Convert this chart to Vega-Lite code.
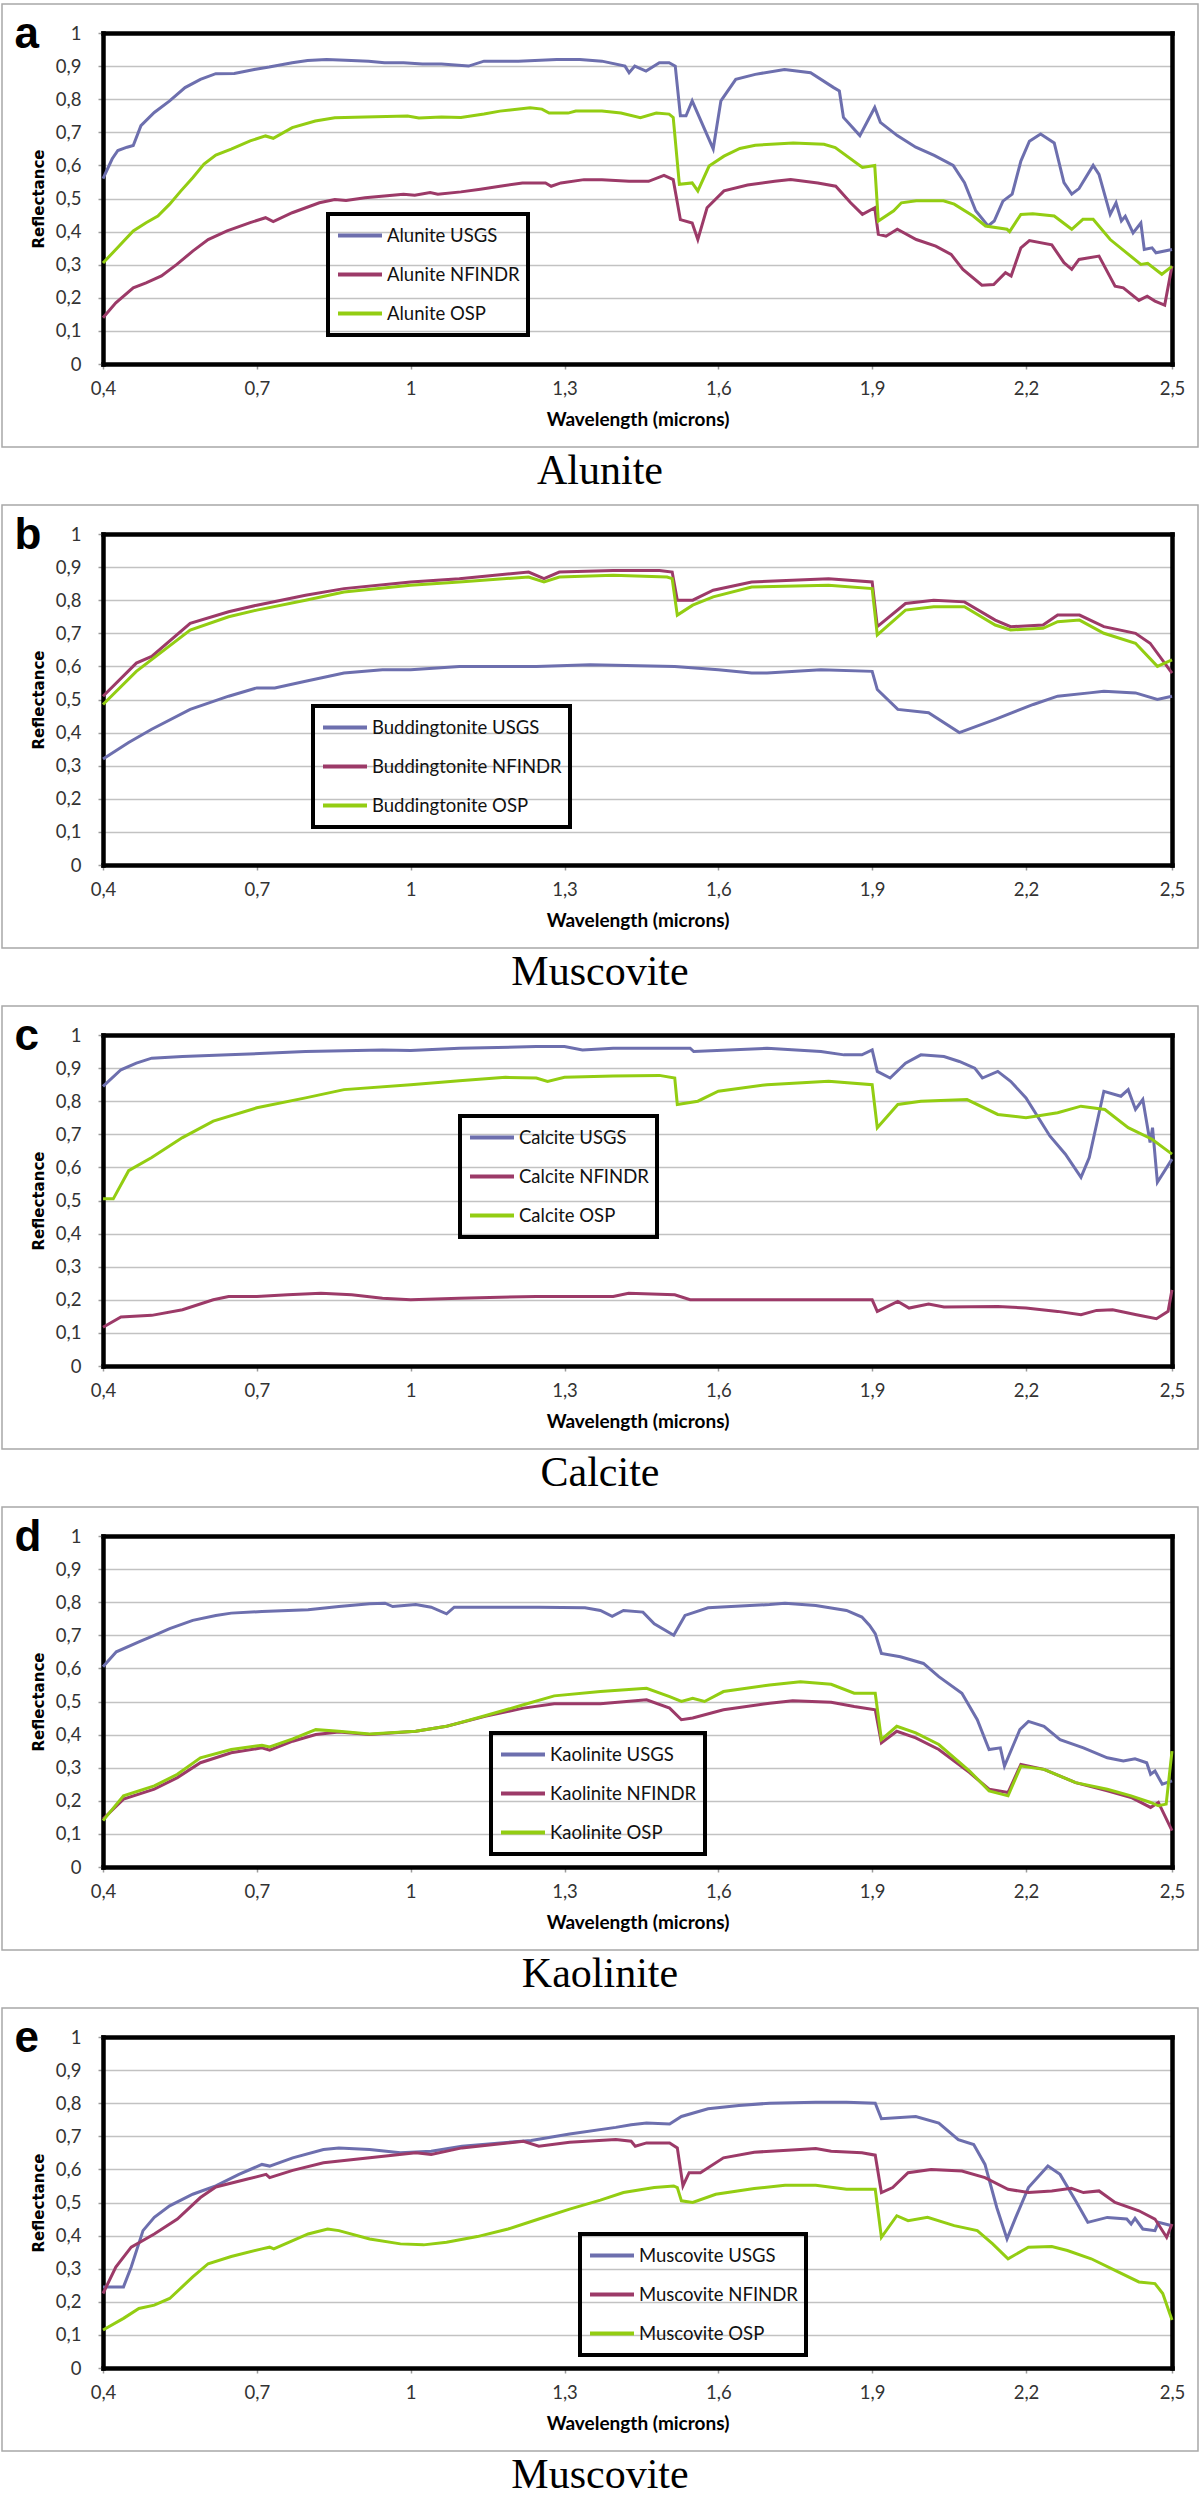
{
"$schema": "https://vega.github.io/schema/vega-lite/v6.json",
"background": "white",
"padding": {"left": 1, "top": 3, "right": 0, "bottom": 0},
"datasets": {
"a": [
{"w":0.4,"r":0.56,"s":"Alunite USGS"},{"w":0.418,"r":0.62,"s":"Alunite USGS"},{"w":0.429,"r":0.645,"s":"Alunite USGS"},{"w":0.447,"r":0.655,"s":"Alunite USGS"},{"w":0.459,"r":0.66,"s":"Alunite USGS"},{"w":0.474,"r":0.72,"s":"Alunite USGS"},{"w":0.5,"r":0.76,"s":"Alunite USGS"},{"w":0.53,"r":0.795,"s":"Alunite USGS"},{"w":0.56,"r":0.835,"s":"Alunite USGS"},{"w":0.59,"r":0.86,"s":"Alunite USGS"},{"w":0.62,"r":0.877,"s":"Alunite USGS"},{"w":0.656,"r":0.878,"s":"Alunite USGS"},{"w":0.695,"r":0.89,"s":"Alunite USGS"},{"w":0.724,"r":0.897,"s":"Alunite USGS"},{"w":0.769,"r":0.91,"s":"Alunite USGS"},{"w":0.799,"r":0.917,"s":"Alunite USGS"},{"w":0.836,"r":0.92,"s":"Alunite USGS"},{"w":0.873,"r":0.918,"s":"Alunite USGS"},{"w":0.918,"r":0.915,"s":"Alunite USGS"},{"w":0.949,"r":0.91,"s":"Alunite USGS"},{"w":0.986,"r":0.91,"s":"Alunite USGS"},{"w":1.023,"r":0.906,"s":"Alunite USGS"},{"w":1.06,"r":0.906,"s":"Alunite USGS"},{"w":1.113,"r":0.9,"s":"Alunite USGS"},{"w":1.143,"r":0.915,"s":"Alunite USGS"},{"w":1.21,"r":0.915,"s":"Alunite USGS"},{"w":1.285,"r":0.92,"s":"Alunite USGS"},{"w":1.33,"r":0.92,"s":"Alunite USGS"},{"w":1.373,"r":0.915,"s":"Alunite USGS"},{"w":1.418,"r":0.9,"s":"Alunite USGS"},{"w":1.426,"r":0.88,"s":"Alunite USGS"},{"w":1.437,"r":0.9,"s":"Alunite USGS"},{"w":1.459,"r":0.885,"s":"Alunite USGS"},{"w":1.485,"r":0.91,"s":"Alunite USGS"},{"w":1.504,"r":0.91,"s":"Alunite USGS"},{"w":1.516,"r":0.9,"s":"Alunite USGS"},{"w":1.526,"r":0.75,"s":"Alunite USGS"},{"w":1.537,"r":0.75,"s":"Alunite USGS"},{"w":1.549,"r":0.795,"s":"Alunite USGS"},{"w":1.59,"r":0.65,"s":"Alunite USGS"},{"w":1.605,"r":0.795,"s":"Alunite USGS"},{"w":1.634,"r":0.86,"s":"Alunite USGS"},{"w":1.672,"r":0.875,"s":"Alunite USGS"},{"w":1.729,"r":0.89,"s":"Alunite USGS"},{"w":1.78,"r":0.88,"s":"Alunite USGS"},{"w":1.825,"r":0.835,"s":"Alunite USGS"},{"w":1.836,"r":0.825,"s":"Alunite USGS"},{"w":1.844,"r":0.745,"s":"Alunite USGS"},{"w":1.876,"r":0.69,"s":"Alunite USGS"},{"w":1.905,"r":0.775,"s":"Alunite USGS"},{"w":1.916,"r":0.73,"s":"Alunite USGS"},{"w":1.949,"r":0.69,"s":"Alunite USGS"},{"w":1.985,"r":0.655,"s":"Alunite USGS"},{"w":2.021,"r":0.63,"s":"Alunite USGS"},{"w":2.058,"r":0.6,"s":"Alunite USGS"},{"w":2.08,"r":0.548,"s":"Alunite USGS"},{"w":2.102,"r":0.463,"s":"Alunite USGS"},{"w":2.126,"r":0.417,"s":"Alunite USGS"},{"w":2.138,"r":0.432,"s":"Alunite USGS"},{"w":2.155,"r":0.492,"s":"Alunite USGS"},{"w":2.173,"r":0.513,"s":"Alunite USGS"},{"w":2.19,"r":0.613,"s":"Alunite USGS"},{"w":2.207,"r":0.673,"s":"Alunite USGS"},{"w":2.23,"r":0.695,"s":"Alunite USGS"},{"w":2.258,"r":0.668,"s":"Alunite USGS"},{"w":2.278,"r":0.548,"s":"Alunite USGS"},{"w":2.294,"r":0.513,"s":"Alunite USGS"},{"w":2.309,"r":0.53,"s":"Alunite USGS"},{"w":2.338,"r":0.6,"s":"Alunite USGS"},{"w":2.35,"r":0.573,"s":"Alunite USGS"},{"w":2.373,"r":0.452,"s":"Alunite USGS"},{"w":2.385,"r":0.487,"s":"Alunite USGS"},{"w":2.396,"r":0.432,"s":"Alunite USGS"},{"w":2.404,"r":0.446,"s":"Alunite USGS"},{"w":2.42,"r":0.396,"s":"Alunite USGS"},{"w":2.436,"r":0.426,"s":"Alunite USGS"},{"w":2.443,"r":0.346,"s":"Alunite USGS"},{"w":2.459,"r":0.351,"s":"Alunite USGS"},{"w":2.467,"r":0.336,"s":"Alunite USGS"},{"w":2.5,"r":0.346,"s":"Alunite USGS"},
{"w":0.4,"r":0.14,"s":"Alunite NFINDR"},{"w":0.425,"r":0.185,"s":"Alunite NFINDR"},{"w":0.459,"r":0.23,"s":"Alunite NFINDR"},{"w":0.484,"r":0.245,"s":"Alunite NFINDR"},{"w":0.514,"r":0.266,"s":"Alunite NFINDR"},{"w":0.544,"r":0.301,"s":"Alunite NFINDR"},{"w":0.575,"r":0.341,"s":"Alunite NFINDR"},{"w":0.605,"r":0.376,"s":"Alunite NFINDR"},{"w":0.642,"r":0.402,"s":"Alunite NFINDR"},{"w":0.687,"r":0.427,"s":"Alunite NFINDR"},{"w":0.717,"r":0.442,"s":"Alunite NFINDR"},{"w":0.732,"r":0.43,"s":"Alunite NFINDR"},{"w":0.769,"r":0.457,"s":"Alunite NFINDR"},{"w":0.822,"r":0.487,"s":"Alunite NFINDR"},{"w":0.852,"r":0.497,"s":"Alunite NFINDR"},{"w":0.874,"r":0.494,"s":"Alunite NFINDR"},{"w":0.911,"r":0.502,"s":"Alunite NFINDR"},{"w":0.986,"r":0.513,"s":"Alunite NFINDR"},{"w":1.008,"r":0.51,"s":"Alunite NFINDR"},{"w":1.038,"r":0.518,"s":"Alunite NFINDR"},{"w":1.053,"r":0.513,"s":"Alunite NFINDR"},{"w":1.098,"r":0.52,"s":"Alunite NFINDR"},{"w":1.136,"r":0.528,"s":"Alunite NFINDR"},{"w":1.174,"r":0.537,"s":"Alunite NFINDR"},{"w":1.218,"r":0.547,"s":"Alunite NFINDR"},{"w":1.263,"r":0.547,"s":"Alunite NFINDR"},{"w":1.274,"r":0.537,"s":"Alunite NFINDR"},{"w":1.293,"r":0.547,"s":"Alunite NFINDR"},{"w":1.338,"r":0.557,"s":"Alunite NFINDR"},{"w":1.373,"r":0.557,"s":"Alunite NFINDR"},{"w":1.426,"r":0.552,"s":"Alunite NFINDR"},{"w":1.464,"r":0.552,"s":"Alunite NFINDR"},{"w":1.494,"r":0.57,"s":"Alunite NFINDR"},{"w":1.512,"r":0.557,"s":"Alunite NFINDR"},{"w":1.526,"r":0.436,"s":"Alunite NFINDR"},{"w":1.549,"r":0.426,"s":"Alunite NFINDR"},{"w":1.56,"r":0.376,"s":"Alunite NFINDR"},{"w":1.578,"r":0.472,"s":"Alunite NFINDR"},{"w":1.611,"r":0.523,"s":"Alunite NFINDR"},{"w":1.657,"r":0.541,"s":"Alunite NFINDR"},{"w":1.71,"r":0.552,"s":"Alunite NFINDR"},{"w":1.741,"r":0.557,"s":"Alunite NFINDR"},{"w":1.794,"r":0.547,"s":"Alunite NFINDR"},{"w":1.829,"r":0.537,"s":"Alunite NFINDR"},{"w":1.858,"r":0.487,"s":"Alunite NFINDR"},{"w":1.881,"r":0.452,"s":"Alunite NFINDR"},{"w":1.905,"r":0.472,"s":"Alunite NFINDR"},{"w":1.912,"r":0.392,"s":"Alunite NFINDR"},{"w":1.927,"r":0.386,"s":"Alunite NFINDR"},{"w":1.949,"r":0.407,"s":"Alunite NFINDR"},{"w":1.986,"r":0.376,"s":"Alunite NFINDR"},{"w":2.024,"r":0.356,"s":"Alunite NFINDR"},{"w":2.054,"r":0.331,"s":"Alunite NFINDR"},{"w":2.077,"r":0.286,"s":"Alunite NFINDR"},{"w":2.114,"r":0.238,"s":"Alunite NFINDR"},{"w":2.137,"r":0.24,"s":"Alunite NFINDR"},{"w":2.16,"r":0.276,"s":"Alunite NFINDR"},{"w":2.171,"r":0.266,"s":"Alunite NFINDR"},{"w":2.19,"r":0.351,"s":"Alunite NFINDR"},{"w":2.207,"r":0.373,"s":"Alunite NFINDR"},{"w":2.253,"r":0.36,"s":"Alunite NFINDR"},{"w":2.278,"r":0.306,"s":"Alunite NFINDR"},{"w":2.294,"r":0.286,"s":"Alunite NFINDR"},{"w":2.309,"r":0.316,"s":"Alunite NFINDR"},{"w":2.35,"r":0.326,"s":"Alunite NFINDR"},{"w":2.383,"r":0.235,"s":"Alunite NFINDR"},{"w":2.4,"r":0.23,"s":"Alunite NFINDR"},{"w":2.432,"r":0.192,"s":"Alunite NFINDR"},{"w":2.449,"r":0.205,"s":"Alunite NFINDR"},{"w":2.465,"r":0.19,"s":"Alunite NFINDR"},{"w":2.485,"r":0.178,"s":"Alunite NFINDR"},{"w":2.5,"r":0.296,"s":"Alunite NFINDR"},
{"w":0.4,"r":0.305,"s":"Alunite OSP"},{"w":0.425,"r":0.346,"s":"Alunite OSP"},{"w":0.459,"r":0.402,"s":"Alunite OSP"},{"w":0.484,"r":0.427,"s":"Alunite OSP"},{"w":0.507,"r":0.447,"s":"Alunite OSP"},{"w":0.53,"r":0.483,"s":"Alunite OSP"},{"w":0.552,"r":0.523,"s":"Alunite OSP"},{"w":0.575,"r":0.563,"s":"Alunite OSP"},{"w":0.597,"r":0.604,"s":"Alunite OSP"},{"w":0.62,"r":0.631,"s":"Alunite OSP"},{"w":0.65,"r":0.649,"s":"Alunite OSP"},{"w":0.687,"r":0.674,"s":"Alunite OSP"},{"w":0.717,"r":0.689,"s":"Alunite OSP"},{"w":0.732,"r":0.682,"s":"Alunite OSP"},{"w":0.769,"r":0.714,"s":"Alunite OSP"},{"w":0.814,"r":0.734,"s":"Alunite OSP"},{"w":0.852,"r":0.744,"s":"Alunite OSP"},{"w":0.911,"r":0.746,"s":"Alunite OSP"},{"w":0.994,"r":0.749,"s":"Alunite OSP"},{"w":1.016,"r":0.743,"s":"Alunite OSP"},{"w":1.06,"r":0.746,"s":"Alunite OSP"},{"w":1.098,"r":0.745,"s":"Alunite OSP"},{"w":1.143,"r":0.755,"s":"Alunite OSP"},{"w":1.174,"r":0.764,"s":"Alunite OSP"},{"w":1.233,"r":0.774,"s":"Alunite OSP"},{"w":1.256,"r":0.77,"s":"Alunite OSP"},{"w":1.27,"r":0.758,"s":"Alunite OSP"},{"w":1.307,"r":0.758,"s":"Alunite OSP"},{"w":1.322,"r":0.764,"s":"Alunite OSP"},{"w":1.373,"r":0.764,"s":"Alunite OSP"},{"w":1.41,"r":0.758,"s":"Alunite OSP"},{"w":1.448,"r":0.744,"s":"Alunite OSP"},{"w":1.479,"r":0.758,"s":"Alunite OSP"},{"w":1.504,"r":0.755,"s":"Alunite OSP"},{"w":1.512,"r":0.745,"s":"Alunite OSP"},{"w":1.524,"r":0.543,"s":"Alunite OSP"},{"w":1.549,"r":0.547,"s":"Alunite OSP"},{"w":1.56,"r":0.523,"s":"Alunite OSP"},{"w":1.582,"r":0.598,"s":"Alunite OSP"},{"w":1.611,"r":0.628,"s":"Alunite OSP"},{"w":1.642,"r":0.651,"s":"Alunite OSP"},{"w":1.672,"r":0.661,"s":"Alunite OSP"},{"w":1.746,"r":0.668,"s":"Alunite OSP"},{"w":1.806,"r":0.664,"s":"Alunite OSP"},{"w":1.828,"r":0.654,"s":"Alunite OSP"},{"w":1.881,"r":0.594,"s":"Alunite OSP"},{"w":1.905,"r":0.6,"s":"Alunite OSP"},{"w":1.912,"r":0.432,"s":"Alunite OSP"},{"w":1.942,"r":0.463,"s":"Alunite OSP"},{"w":1.957,"r":0.487,"s":"Alunite OSP"},{"w":1.986,"r":0.493,"s":"Alunite OSP"},{"w":2.039,"r":0.493,"s":"Alunite OSP"},{"w":2.06,"r":0.483,"s":"Alunite OSP"},{"w":2.097,"r":0.447,"s":"Alunite OSP"},{"w":2.121,"r":0.417,"s":"Alunite OSP"},{"w":2.163,"r":0.407,"s":"Alunite OSP"},{"w":2.168,"r":0.4,"s":"Alunite OSP"},{"w":2.19,"r":0.452,"s":"Alunite OSP"},{"w":2.214,"r":0.454,"s":"Alunite OSP"},{"w":2.258,"r":0.447,"s":"Alunite OSP"},{"w":2.294,"r":0.407,"s":"Alunite OSP"},{"w":2.317,"r":0.437,"s":"Alunite OSP"},{"w":2.338,"r":0.437,"s":"Alunite OSP"},{"w":2.373,"r":0.376,"s":"Alunite OSP"},{"w":2.436,"r":0.301,"s":"Alunite OSP"},{"w":2.45,"r":0.304,"s":"Alunite OSP"},{"w":2.479,"r":0.271,"s":"Alunite OSP"},{"w":2.5,"r":0.295,"s":"Alunite OSP"}
],
"b": [
{"w":0.4,"r":0.32,"s":"Buddingtonite USGS"},{"w":0.45,"r":0.37,"s":"Buddingtonite USGS"},{"w":0.495,"r":0.41,"s":"Buddingtonite USGS"},{"w":0.57,"r":0.47,"s":"Buddingtonite USGS"},{"w":0.645,"r":0.51,"s":"Buddingtonite USGS"},{"w":0.7,"r":0.535,"s":"Buddingtonite USGS"},{"w":0.735,"r":0.535,"s":"Buddingtonite USGS"},{"w":0.795,"r":0.555,"s":"Buddingtonite USGS"},{"w":0.87,"r":0.58,"s":"Buddingtonite USGS"},{"w":0.945,"r":0.59,"s":"Buddingtonite USGS"},{"w":1.0,"r":0.59,"s":"Buddingtonite USGS"},{"w":1.095,"r":0.6,"s":"Buddingtonite USGS"},{"w":1.245,"r":0.6,"s":"Buddingtonite USGS"},{"w":1.35,"r":0.605,"s":"Buddingtonite USGS"},{"w":1.515,"r":0.6,"s":"Buddingtonite USGS"},{"w":1.6,"r":0.59,"s":"Buddingtonite USGS"},{"w":1.665,"r":0.58,"s":"Buddingtonite USGS"},{"w":1.695,"r":0.58,"s":"Buddingtonite USGS"},{"w":1.8,"r":0.59,"s":"Buddingtonite USGS"},{"w":1.9,"r":0.585,"s":"Buddingtonite USGS"},{"w":1.91,"r":0.53,"s":"Buddingtonite USGS"},{"w":1.95,"r":0.47,"s":"Buddingtonite USGS"},{"w":2.01,"r":0.46,"s":"Buddingtonite USGS"},{"w":2.07,"r":0.4,"s":"Buddingtonite USGS"},{"w":2.14,"r":0.44,"s":"Buddingtonite USGS"},{"w":2.215,"r":0.485,"s":"Buddingtonite USGS"},{"w":2.265,"r":0.51,"s":"Buddingtonite USGS"},{"w":2.33,"r":0.52,"s":"Buddingtonite USGS"},{"w":2.36,"r":0.525,"s":"Buddingtonite USGS"},{"w":2.425,"r":0.52,"s":"Buddingtonite USGS"},{"w":2.47,"r":0.5,"s":"Buddingtonite USGS"},{"w":2.5,"r":0.51,"s":"Buddingtonite USGS"},
{"w":0.4,"r":0.51,"s":"Buddingtonite NFINDR"},{"w":0.465,"r":0.61,"s":"Buddingtonite NFINDR"},{"w":0.495,"r":0.63,"s":"Buddingtonite NFINDR"},{"w":0.57,"r":0.73,"s":"Buddingtonite NFINDR"},{"w":0.645,"r":0.765,"s":"Buddingtonite NFINDR"},{"w":0.7,"r":0.785,"s":"Buddingtonite NFINDR"},{"w":0.795,"r":0.815,"s":"Buddingtonite NFINDR"},{"w":0.87,"r":0.835,"s":"Buddingtonite NFINDR"},{"w":1.0,"r":0.855,"s":"Buddingtonite NFINDR"},{"w":1.095,"r":0.865,"s":"Buddingtonite NFINDR"},{"w":1.23,"r":0.885,"s":"Buddingtonite NFINDR"},{"w":1.26,"r":0.865,"s":"Buddingtonite NFINDR"},{"w":1.29,"r":0.885,"s":"Buddingtonite NFINDR"},{"w":1.395,"r":0.89,"s":"Buddingtonite NFINDR"},{"w":1.485,"r":0.89,"s":"Buddingtonite NFINDR"},{"w":1.51,"r":0.885,"s":"Buddingtonite NFINDR"},{"w":1.52,"r":0.8,"s":"Buddingtonite NFINDR"},{"w":1.55,"r":0.8,"s":"Buddingtonite NFINDR"},{"w":1.59,"r":0.83,"s":"Buddingtonite NFINDR"},{"w":1.665,"r":0.855,"s":"Buddingtonite NFINDR"},{"w":1.815,"r":0.865,"s":"Buddingtonite NFINDR"},{"w":1.9,"r":0.855,"s":"Buddingtonite NFINDR"},{"w":1.91,"r":0.72,"s":"Buddingtonite NFINDR"},{"w":1.965,"r":0.79,"s":"Buddingtonite NFINDR"},{"w":2.02,"r":0.8,"s":"Buddingtonite NFINDR"},{"w":2.08,"r":0.795,"s":"Buddingtonite NFINDR"},{"w":2.14,"r":0.74,"s":"Buddingtonite NFINDR"},{"w":2.17,"r":0.72,"s":"Buddingtonite NFINDR"},{"w":2.235,"r":0.725,"s":"Buddingtonite NFINDR"},{"w":2.265,"r":0.755,"s":"Buddingtonite NFINDR"},{"w":2.31,"r":0.755,"s":"Buddingtonite NFINDR"},{"w":2.36,"r":0.72,"s":"Buddingtonite NFINDR"},{"w":2.425,"r":0.7,"s":"Buddingtonite NFINDR"},{"w":2.455,"r":0.67,"s":"Buddingtonite NFINDR"},{"w":2.5,"r":0.58,"s":"Buddingtonite NFINDR"},
{"w":0.4,"r":0.485,"s":"Buddingtonite OSP"},{"w":0.465,"r":0.585,"s":"Buddingtonite OSP"},{"w":0.57,"r":0.71,"s":"Buddingtonite OSP"},{"w":0.645,"r":0.75,"s":"Buddingtonite OSP"},{"w":0.7,"r":0.77,"s":"Buddingtonite OSP"},{"w":0.795,"r":0.8,"s":"Buddingtonite OSP"},{"w":0.87,"r":0.825,"s":"Buddingtonite OSP"},{"w":1.0,"r":0.845,"s":"Buddingtonite OSP"},{"w":1.095,"r":0.855,"s":"Buddingtonite OSP"},{"w":1.23,"r":0.87,"s":"Buddingtonite OSP"},{"w":1.26,"r":0.855,"s":"Buddingtonite OSP"},{"w":1.29,"r":0.87,"s":"Buddingtonite OSP"},{"w":1.395,"r":0.875,"s":"Buddingtonite OSP"},{"w":1.5,"r":0.87,"s":"Buddingtonite OSP"},{"w":1.51,"r":0.865,"s":"Buddingtonite OSP"},{"w":1.52,"r":0.755,"s":"Buddingtonite OSP"},{"w":1.55,"r":0.785,"s":"Buddingtonite OSP"},{"w":1.59,"r":0.81,"s":"Buddingtonite OSP"},{"w":1.665,"r":0.84,"s":"Buddingtonite OSP"},{"w":1.815,"r":0.845,"s":"Buddingtonite OSP"},{"w":1.9,"r":0.835,"s":"Buddingtonite OSP"},{"w":1.91,"r":0.695,"s":"Buddingtonite OSP"},{"w":1.965,"r":0.77,"s":"Buddingtonite OSP"},{"w":2.02,"r":0.78,"s":"Buddingtonite OSP"},{"w":2.08,"r":0.78,"s":"Buddingtonite OSP"},{"w":2.14,"r":0.725,"s":"Buddingtonite OSP"},{"w":2.17,"r":0.71,"s":"Buddingtonite OSP"},{"w":2.235,"r":0.715,"s":"Buddingtonite OSP"},{"w":2.265,"r":0.735,"s":"Buddingtonite OSP"},{"w":2.31,"r":0.74,"s":"Buddingtonite OSP"},{"w":2.36,"r":0.7,"s":"Buddingtonite OSP"},{"w":2.425,"r":0.67,"s":"Buddingtonite OSP"},{"w":2.47,"r":0.6,"s":"Buddingtonite OSP"},{"w":2.5,"r":0.62,"s":"Buddingtonite OSP"}
],
"c": [
{"w":0.4,"r":0.845,"s":"Calcite USGS"},{"w":0.435,"r":0.895,"s":"Calcite USGS"},{"w":0.465,"r":0.915,"s":"Calcite USGS"},{"w":0.495,"r":0.93,"s":"Calcite USGS"},{"w":0.555,"r":0.935,"s":"Calcite USGS"},{"w":0.645,"r":0.94,"s":"Calcite USGS"},{"w":0.795,"r":0.95,"s":"Calcite USGS"},{"w":0.945,"r":0.955,"s":"Calcite USGS"},{"w":1.0,"r":0.953,"s":"Calcite USGS"},{"w":1.095,"r":0.96,"s":"Calcite USGS"},{"w":1.245,"r":0.965,"s":"Calcite USGS"},{"w":1.3,"r":0.965,"s":"Calcite USGS"},{"w":1.335,"r":0.955,"s":"Calcite USGS"},{"w":1.395,"r":0.96,"s":"Calcite USGS"},{"w":1.545,"r":0.96,"s":"Calcite USGS"},{"w":1.552,"r":0.95,"s":"Calcite USGS"},{"w":1.695,"r":0.96,"s":"Calcite USGS"},{"w":1.8,"r":0.95,"s":"Calcite USGS"},{"w":1.845,"r":0.94,"s":"Calcite USGS"},{"w":1.88,"r":0.94,"s":"Calcite USGS"},{"w":1.9,"r":0.955,"s":"Calcite USGS"},{"w":1.91,"r":0.89,"s":"Calcite USGS"},{"w":1.935,"r":0.87,"s":"Calcite USGS"},{"w":1.965,"r":0.915,"s":"Calcite USGS"},{"w":1.995,"r":0.94,"s":"Calcite USGS"},{"w":2.04,"r":0.935,"s":"Calcite USGS"},{"w":2.07,"r":0.92,"s":"Calcite USGS"},{"w":2.1,"r":0.9,"s":"Calcite USGS"},{"w":2.115,"r":0.87,"s":"Calcite USGS"},{"w":2.145,"r":0.89,"s":"Calcite USGS"},{"w":2.17,"r":0.86,"s":"Calcite USGS"},{"w":2.2,"r":0.81,"s":"Calcite USGS"},{"w":2.249,"r":0.695,"s":"Calcite USGS"},{"w":2.281,"r":0.64,"s":"Calcite USGS"},{"w":2.313,"r":0.57,"s":"Calcite USGS"},{"w":2.33,"r":0.63,"s":"Calcite USGS"},{"w":2.36,"r":0.83,"s":"Calcite USGS"},{"w":2.395,"r":0.815,"s":"Calcite USGS"},{"w":2.41,"r":0.835,"s":"Calcite USGS"},{"w":2.425,"r":0.775,"s":"Calcite USGS"},{"w":2.44,"r":0.805,"s":"Calcite USGS"},{"w":2.455,"r":0.675,"s":"Calcite USGS"},{"w":2.46,"r":0.72,"s":"Calcite USGS"},{"w":2.47,"r":0.555,"s":"Calcite USGS"},{"w":2.5,"r":0.625,"s":"Calcite USGS"},
{"w":0.4,"r":0.117,"s":"Calcite NFINDR"},{"w":0.435,"r":0.148,"s":"Calcite NFINDR"},{"w":0.495,"r":0.153,"s":"Calcite NFINDR"},{"w":0.555,"r":0.17,"s":"Calcite NFINDR"},{"w":0.615,"r":0.2,"s":"Calcite NFINDR"},{"w":0.645,"r":0.21,"s":"Calcite NFINDR"},{"w":0.7,"r":0.21,"s":"Calcite NFINDR"},{"w":0.76,"r":0.215,"s":"Calcite NFINDR"},{"w":0.825,"r":0.22,"s":"Calcite NFINDR"},{"w":0.885,"r":0.215,"s":"Calcite NFINDR"},{"w":0.945,"r":0.205,"s":"Calcite NFINDR"},{"w":1.0,"r":0.2,"s":"Calcite NFINDR"},{"w":1.095,"r":0.205,"s":"Calcite NFINDR"},{"w":1.245,"r":0.21,"s":"Calcite NFINDR"},{"w":1.395,"r":0.21,"s":"Calcite NFINDR"},{"w":1.425,"r":0.22,"s":"Calcite NFINDR"},{"w":1.515,"r":0.215,"s":"Calcite NFINDR"},{"w":1.545,"r":0.2,"s":"Calcite NFINDR"},{"w":1.575,"r":0.2,"s":"Calcite NFINDR"},{"w":1.695,"r":0.2,"s":"Calcite NFINDR"},{"w":1.845,"r":0.2,"s":"Calcite NFINDR"},{"w":1.9,"r":0.2,"s":"Calcite NFINDR"},{"w":1.91,"r":0.165,"s":"Calcite NFINDR"},{"w":1.95,"r":0.195,"s":"Calcite NFINDR"},{"w":1.972,"r":0.175,"s":"Calcite NFINDR"},{"w":2.01,"r":0.187,"s":"Calcite NFINDR"},{"w":2.04,"r":0.178,"s":"Calcite NFINDR"},{"w":2.145,"r":0.18,"s":"Calcite NFINDR"},{"w":2.2,"r":0.175,"s":"Calcite NFINDR"},{"w":2.265,"r":0.165,"s":"Calcite NFINDR"},{"w":2.313,"r":0.155,"s":"Calcite NFINDR"},{"w":2.345,"r":0.168,"s":"Calcite NFINDR"},{"w":2.378,"r":0.17,"s":"Calcite NFINDR"},{"w":2.427,"r":0.155,"s":"Calcite NFINDR"},{"w":2.468,"r":0.143,"s":"Calcite NFINDR"},{"w":2.492,"r":0.165,"s":"Calcite NFINDR"},{"w":2.5,"r":0.23,"s":"Calcite NFINDR"},
{"w":0.4,"r":0.505,"s":"Calcite OSP"},{"w":0.42,"r":0.505,"s":"Calcite OSP"},{"w":0.45,"r":0.59,"s":"Calcite OSP"},{"w":0.495,"r":0.63,"s":"Calcite OSP"},{"w":0.555,"r":0.69,"s":"Calcite OSP"},{"w":0.615,"r":0.74,"s":"Calcite OSP"},{"w":0.7,"r":0.78,"s":"Calcite OSP"},{"w":0.795,"r":0.81,"s":"Calcite OSP"},{"w":0.87,"r":0.835,"s":"Calcite OSP"},{"w":1.0,"r":0.85,"s":"Calcite OSP"},{"w":1.095,"r":0.862,"s":"Calcite OSP"},{"w":1.185,"r":0.872,"s":"Calcite OSP"},{"w":1.245,"r":0.87,"s":"Calcite OSP"},{"w":1.267,"r":0.86,"s":"Calcite OSP"},{"w":1.3,"r":0.872,"s":"Calcite OSP"},{"w":1.395,"r":0.876,"s":"Calcite OSP"},{"w":1.485,"r":0.878,"s":"Calcite OSP"},{"w":1.515,"r":0.87,"s":"Calcite OSP"},{"w":1.52,"r":0.79,"s":"Calcite OSP"},{"w":1.56,"r":0.8,"s":"Calcite OSP"},{"w":1.6,"r":0.83,"s":"Calcite OSP"},{"w":1.695,"r":0.85,"s":"Calcite OSP"},{"w":1.815,"r":0.86,"s":"Calcite OSP"},{"w":1.9,"r":0.85,"s":"Calcite OSP"},{"w":1.91,"r":0.72,"s":"Calcite OSP"},{"w":1.95,"r":0.79,"s":"Calcite OSP"},{"w":1.995,"r":0.8,"s":"Calcite OSP"},{"w":2.085,"r":0.805,"s":"Calcite OSP"},{"w":2.145,"r":0.76,"s":"Calcite OSP"},{"w":2.2,"r":0.75,"s":"Calcite OSP"},{"w":2.265,"r":0.765,"s":"Calcite OSP"},{"w":2.313,"r":0.785,"s":"Calcite OSP"},{"w":2.362,"r":0.775,"s":"Calcite OSP"},{"w":2.41,"r":0.72,"s":"Calcite OSP"},{"w":2.459,"r":0.685,"s":"Calcite OSP"},{"w":2.5,"r":0.64,"s":"Calcite OSP"}
],
"d": [
{"w":0.4,"r":0.605,"s":"Kaolinite USGS"},{"w":0.426,"r":0.65,"s":"Kaolinite USGS"},{"w":0.47,"r":0.68,"s":"Kaolinite USGS"},{"w":0.5,"r":0.7,"s":"Kaolinite USGS"},{"w":0.53,"r":0.72,"s":"Kaolinite USGS"},{"w":0.575,"r":0.745,"s":"Kaolinite USGS"},{"w":0.62,"r":0.76,"s":"Kaolinite USGS"},{"w":0.65,"r":0.767,"s":"Kaolinite USGS"},{"w":0.71,"r":0.772,"s":"Kaolinite USGS"},{"w":0.8,"r":0.777,"s":"Kaolinite USGS"},{"w":0.86,"r":0.787,"s":"Kaolinite USGS"},{"w":0.92,"r":0.795,"s":"Kaolinite USGS"},{"w":0.95,"r":0.797,"s":"Kaolinite USGS"},{"w":0.965,"r":0.787,"s":"Kaolinite USGS"},{"w":1.01,"r":0.793,"s":"Kaolinite USGS"},{"w":1.04,"r":0.785,"s":"Kaolinite USGS"},{"w":1.07,"r":0.765,"s":"Kaolinite USGS"},{"w":1.085,"r":0.785,"s":"Kaolinite USGS"},{"w":1.175,"r":0.785,"s":"Kaolinite USGS"},{"w":1.25,"r":0.785,"s":"Kaolinite USGS"},{"w":1.34,"r":0.783,"s":"Kaolinite USGS"},{"w":1.37,"r":0.775,"s":"Kaolinite USGS"},{"w":1.393,"r":0.757,"s":"Kaolinite USGS"},{"w":1.415,"r":0.775,"s":"Kaolinite USGS"},{"w":1.453,"r":0.77,"s":"Kaolinite USGS"},{"w":1.475,"r":0.735,"s":"Kaolinite USGS"},{"w":1.513,"r":0.7,"s":"Kaolinite USGS"},{"w":1.535,"r":0.76,"s":"Kaolinite USGS"},{"w":1.58,"r":0.783,"s":"Kaolinite USGS"},{"w":1.625,"r":0.787,"s":"Kaolinite USGS"},{"w":1.7,"r":0.793,"s":"Kaolinite USGS"},{"w":1.73,"r":0.797,"s":"Kaolinite USGS"},{"w":1.79,"r":0.79,"s":"Kaolinite USGS"},{"w":1.85,"r":0.775,"s":"Kaolinite USGS"},{"w":1.88,"r":0.755,"s":"Kaolinite USGS"},{"w":1.895,"r":0.73,"s":"Kaolinite USGS"},{"w":1.906,"r":0.705,"s":"Kaolinite USGS"},{"w":1.918,"r":0.645,"s":"Kaolinite USGS"},{"w":1.955,"r":0.635,"s":"Kaolinite USGS"},{"w":2.0,"r":0.615,"s":"Kaolinite USGS"},{"w":2.03,"r":0.575,"s":"Kaolinite USGS"},{"w":2.075,"r":0.525,"s":"Kaolinite USGS"},{"w":2.105,"r":0.445,"s":"Kaolinite USGS"},{"w":2.128,"r":0.355,"s":"Kaolinite USGS"},{"w":2.15,"r":0.36,"s":"Kaolinite USGS"},{"w":2.158,"r":0.305,"s":"Kaolinite USGS"},{"w":2.188,"r":0.415,"s":"Kaolinite USGS"},{"w":2.205,"r":0.44,"s":"Kaolinite USGS"},{"w":2.237,"r":0.425,"s":"Kaolinite USGS"},{"w":2.27,"r":0.385,"s":"Kaolinite USGS"},{"w":2.318,"r":0.36,"s":"Kaolinite USGS"},{"w":2.367,"r":0.33,"s":"Kaolinite USGS"},{"w":2.4,"r":0.32,"s":"Kaolinite USGS"},{"w":2.424,"r":0.327,"s":"Kaolinite USGS"},{"w":2.448,"r":0.315,"s":"Kaolinite USGS"},{"w":2.456,"r":0.28,"s":"Kaolinite USGS"},{"w":2.465,"r":0.29,"s":"Kaolinite USGS"},{"w":2.48,"r":0.25,"s":"Kaolinite USGS"},{"w":2.5,"r":0.26,"s":"Kaolinite USGS"},
{"w":0.4,"r":0.145,"s":"Kaolinite NFINDR"},{"w":0.44,"r":0.205,"s":"Kaolinite NFINDR"},{"w":0.5,"r":0.235,"s":"Kaolinite NFINDR"},{"w":0.545,"r":0.27,"s":"Kaolinite NFINDR"},{"w":0.59,"r":0.315,"s":"Kaolinite NFINDR"},{"w":0.65,"r":0.345,"s":"Kaolinite NFINDR"},{"w":0.71,"r":0.36,"s":"Kaolinite NFINDR"},{"w":0.725,"r":0.353,"s":"Kaolinite NFINDR"},{"w":0.77,"r":0.38,"s":"Kaolinite NFINDR"},{"w":0.815,"r":0.4,"s":"Kaolinite NFINDR"},{"w":0.86,"r":0.408,"s":"Kaolinite NFINDR"},{"w":0.92,"r":0.4,"s":"Kaolinite NFINDR"},{"w":1.01,"r":0.41,"s":"Kaolinite NFINDR"},{"w":1.07,"r":0.425,"s":"Kaolinite NFINDR"},{"w":1.145,"r":0.455,"s":"Kaolinite NFINDR"},{"w":1.22,"r":0.48,"s":"Kaolinite NFINDR"},{"w":1.28,"r":0.493,"s":"Kaolinite NFINDR"},{"w":1.37,"r":0.493,"s":"Kaolinite NFINDR"},{"w":1.46,"r":0.505,"s":"Kaolinite NFINDR"},{"w":1.505,"r":0.48,"s":"Kaolinite NFINDR"},{"w":1.528,"r":0.445,"s":"Kaolinite NFINDR"},{"w":1.55,"r":0.45,"s":"Kaolinite NFINDR"},{"w":1.61,"r":0.475,"s":"Kaolinite NFINDR"},{"w":1.7,"r":0.495,"s":"Kaolinite NFINDR"},{"w":1.745,"r":0.502,"s":"Kaolinite NFINDR"},{"w":1.82,"r":0.498,"s":"Kaolinite NFINDR"},{"w":1.865,"r":0.485,"s":"Kaolinite NFINDR"},{"w":1.906,"r":0.475,"s":"Kaolinite NFINDR"},{"w":1.918,"r":0.375,"s":"Kaolinite NFINDR"},{"w":1.948,"r":0.41,"s":"Kaolinite NFINDR"},{"w":1.985,"r":0.39,"s":"Kaolinite NFINDR"},{"w":2.03,"r":0.355,"s":"Kaolinite NFINDR"},{"w":2.09,"r":0.285,"s":"Kaolinite NFINDR"},{"w":2.128,"r":0.235,"s":"Kaolinite NFINDR"},{"w":2.165,"r":0.225,"s":"Kaolinite NFINDR"},{"w":2.19,"r":0.31,"s":"Kaolinite NFINDR"},{"w":2.237,"r":0.295,"s":"Kaolinite NFINDR"},{"w":2.302,"r":0.255,"s":"Kaolinite NFINDR"},{"w":2.367,"r":0.23,"s":"Kaolinite NFINDR"},{"w":2.416,"r":0.21,"s":"Kaolinite NFINDR"},{"w":2.456,"r":0.18,"s":"Kaolinite NFINDR"},{"w":2.472,"r":0.195,"s":"Kaolinite NFINDR"},{"w":2.5,"r":0.11,"s":"Kaolinite NFINDR"},
{"w":0.4,"r":0.14,"s":"Kaolinite OSP"},{"w":0.44,"r":0.215,"s":"Kaolinite OSP"},{"w":0.5,"r":0.245,"s":"Kaolinite OSP"},{"w":0.545,"r":0.28,"s":"Kaolinite OSP"},{"w":0.59,"r":0.33,"s":"Kaolinite OSP"},{"w":0.65,"r":0.355,"s":"Kaolinite OSP"},{"w":0.71,"r":0.368,"s":"Kaolinite OSP"},{"w":0.725,"r":0.363,"s":"Kaolinite OSP"},{"w":0.77,"r":0.387,"s":"Kaolinite OSP"},{"w":0.815,"r":0.415,"s":"Kaolinite OSP"},{"w":0.86,"r":0.41,"s":"Kaolinite OSP"},{"w":0.92,"r":0.402,"s":"Kaolinite OSP"},{"w":1.01,"r":0.41,"s":"Kaolinite OSP"},{"w":1.07,"r":0.425,"s":"Kaolinite OSP"},{"w":1.145,"r":0.457,"s":"Kaolinite OSP"},{"w":1.22,"r":0.49,"s":"Kaolinite OSP"},{"w":1.28,"r":0.517,"s":"Kaolinite OSP"},{"w":1.37,"r":0.53,"s":"Kaolinite OSP"},{"w":1.46,"r":0.54,"s":"Kaolinite OSP"},{"w":1.505,"r":0.515,"s":"Kaolinite OSP"},{"w":1.528,"r":0.5,"s":"Kaolinite OSP"},{"w":1.55,"r":0.51,"s":"Kaolinite OSP"},{"w":1.573,"r":0.5,"s":"Kaolinite OSP"},{"w":1.61,"r":0.53,"s":"Kaolinite OSP"},{"w":1.7,"r":0.55,"s":"Kaolinite OSP"},{"w":1.76,"r":0.56,"s":"Kaolinite OSP"},{"w":1.82,"r":0.552,"s":"Kaolinite OSP"},{"w":1.865,"r":0.525,"s":"Kaolinite OSP"},{"w":1.906,"r":0.525,"s":"Kaolinite OSP"},{"w":1.918,"r":0.385,"s":"Kaolinite OSP"},{"w":1.948,"r":0.425,"s":"Kaolinite OSP"},{"w":1.985,"r":0.405,"s":"Kaolinite OSP"},{"w":2.03,"r":0.37,"s":"Kaolinite OSP"},{"w":2.09,"r":0.29,"s":"Kaolinite OSP"},{"w":2.128,"r":0.23,"s":"Kaolinite OSP"},{"w":2.165,"r":0.215,"s":"Kaolinite OSP"},{"w":2.19,"r":0.305,"s":"Kaolinite OSP"},{"w":2.237,"r":0.295,"s":"Kaolinite OSP"},{"w":2.302,"r":0.255,"s":"Kaolinite OSP"},{"w":2.367,"r":0.235,"s":"Kaolinite OSP"},{"w":2.416,"r":0.215,"s":"Kaolinite OSP"},{"w":2.456,"r":0.195,"s":"Kaolinite OSP"},{"w":2.472,"r":0.185,"s":"Kaolinite OSP"},{"w":2.488,"r":0.19,"s":"Kaolinite OSP"},{"w":2.5,"r":0.35,"s":"Kaolinite OSP"}
],
"e": [
{"w":0.4,"r":0.245,"s":"Muscovite USGS"},{"w":0.44,"r":0.245,"s":"Muscovite USGS"},{"w":0.455,"r":0.305,"s":"Muscovite USGS"},{"w":0.478,"r":0.415,"s":"Muscovite USGS"},{"w":0.5,"r":0.455,"s":"Muscovite USGS"},{"w":0.53,"r":0.49,"s":"Muscovite USGS"},{"w":0.575,"r":0.525,"s":"Muscovite USGS"},{"w":0.62,"r":0.55,"s":"Muscovite USGS"},{"w":0.665,"r":0.585,"s":"Muscovite USGS"},{"w":0.71,"r":0.615,"s":"Muscovite USGS"},{"w":0.725,"r":0.61,"s":"Muscovite USGS"},{"w":0.77,"r":0.635,"s":"Muscovite USGS"},{"w":0.83,"r":0.66,"s":"Muscovite USGS"},{"w":0.86,"r":0.665,"s":"Muscovite USGS"},{"w":0.92,"r":0.66,"s":"Muscovite USGS"},{"w":0.98,"r":0.65,"s":"Muscovite USGS"},{"w":1.04,"r":0.655,"s":"Muscovite USGS"},{"w":1.1,"r":0.67,"s":"Muscovite USGS"},{"w":1.175,"r":0.68,"s":"Muscovite USGS"},{"w":1.235,"r":0.687,"s":"Muscovite USGS"},{"w":1.31,"r":0.707,"s":"Muscovite USGS"},{"w":1.4,"r":0.727,"s":"Muscovite USGS"},{"w":1.43,"r":0.735,"s":"Muscovite USGS"},{"w":1.46,"r":0.74,"s":"Muscovite USGS"},{"w":1.505,"r":0.737,"s":"Muscovite USGS"},{"w":1.528,"r":0.76,"s":"Muscovite USGS"},{"w":1.58,"r":0.783,"s":"Muscovite USGS"},{"w":1.64,"r":0.793,"s":"Muscovite USGS"},{"w":1.7,"r":0.8,"s":"Muscovite USGS"},{"w":1.79,"r":0.803,"s":"Muscovite USGS"},{"w":1.85,"r":0.803,"s":"Muscovite USGS"},{"w":1.906,"r":0.8,"s":"Muscovite USGS"},{"w":1.918,"r":0.753,"s":"Muscovite USGS"},{"w":1.985,"r":0.76,"s":"Muscovite USGS"},{"w":2.03,"r":0.74,"s":"Muscovite USGS"},{"w":2.068,"r":0.69,"s":"Muscovite USGS"},{"w":2.098,"r":0.675,"s":"Muscovite USGS"},{"w":2.12,"r":0.615,"s":"Muscovite USGS"},{"w":2.143,"r":0.485,"s":"Muscovite USGS"},{"w":2.163,"r":0.39,"s":"Muscovite USGS"},{"w":2.18,"r":0.455,"s":"Muscovite USGS"},{"w":2.205,"r":0.545,"s":"Muscovite USGS"},{"w":2.245,"r":0.61,"s":"Muscovite USGS"},{"w":2.27,"r":0.585,"s":"Muscovite USGS"},{"w":2.302,"r":0.505,"s":"Muscovite USGS"},{"w":2.327,"r":0.44,"s":"Muscovite USGS"},{"w":2.367,"r":0.455,"s":"Muscovite USGS"},{"w":2.407,"r":0.45,"s":"Muscovite USGS"},{"w":2.416,"r":0.435,"s":"Muscovite USGS"},{"w":2.424,"r":0.452,"s":"Muscovite USGS"},{"w":2.44,"r":0.42,"s":"Muscovite USGS"},{"w":2.465,"r":0.415,"s":"Muscovite USGS"},{"w":2.472,"r":0.44,"s":"Muscovite USGS"},{"w":2.5,"r":0.43,"s":"Muscovite USGS"},
{"w":0.4,"r":0.225,"s":"Muscovite NFINDR"},{"w":0.425,"r":0.305,"s":"Muscovite NFINDR"},{"w":0.455,"r":0.365,"s":"Muscovite NFINDR"},{"w":0.5,"r":0.405,"s":"Muscovite NFINDR"},{"w":0.545,"r":0.45,"s":"Muscovite NFINDR"},{"w":0.59,"r":0.515,"s":"Muscovite NFINDR"},{"w":0.62,"r":0.547,"s":"Muscovite NFINDR"},{"w":0.68,"r":0.57,"s":"Muscovite NFINDR"},{"w":0.718,"r":0.585,"s":"Muscovite NFINDR"},{"w":0.725,"r":0.575,"s":"Muscovite NFINDR"},{"w":0.77,"r":0.597,"s":"Muscovite NFINDR"},{"w":0.83,"r":0.62,"s":"Muscovite NFINDR"},{"w":0.92,"r":0.635,"s":"Muscovite NFINDR"},{"w":1.01,"r":0.65,"s":"Muscovite NFINDR"},{"w":1.04,"r":0.645,"s":"Muscovite NFINDR"},{"w":1.1,"r":0.665,"s":"Muscovite NFINDR"},{"w":1.22,"r":0.685,"s":"Muscovite NFINDR"},{"w":1.25,"r":0.67,"s":"Muscovite NFINDR"},{"w":1.31,"r":0.682,"s":"Muscovite NFINDR"},{"w":1.4,"r":0.69,"s":"Muscovite NFINDR"},{"w":1.43,"r":0.685,"s":"Muscovite NFINDR"},{"w":1.438,"r":0.67,"s":"Muscovite NFINDR"},{"w":1.46,"r":0.68,"s":"Muscovite NFINDR"},{"w":1.505,"r":0.68,"s":"Muscovite NFINDR"},{"w":1.52,"r":0.665,"s":"Muscovite NFINDR"},{"w":1.531,"r":0.55,"s":"Muscovite NFINDR"},{"w":1.543,"r":0.59,"s":"Muscovite NFINDR"},{"w":1.565,"r":0.59,"s":"Muscovite NFINDR"},{"w":1.61,"r":0.635,"s":"Muscovite NFINDR"},{"w":1.67,"r":0.652,"s":"Muscovite NFINDR"},{"w":1.76,"r":0.66,"s":"Muscovite NFINDR"},{"w":1.79,"r":0.663,"s":"Muscovite NFINDR"},{"w":1.82,"r":0.655,"s":"Muscovite NFINDR"},{"w":1.88,"r":0.65,"s":"Muscovite NFINDR"},{"w":1.906,"r":0.643,"s":"Muscovite NFINDR"},{"w":1.918,"r":0.53,"s":"Muscovite NFINDR"},{"w":1.94,"r":0.545,"s":"Muscovite NFINDR"},{"w":1.97,"r":0.59,"s":"Muscovite NFINDR"},{"w":2.015,"r":0.6,"s":"Muscovite NFINDR"},{"w":2.075,"r":0.595,"s":"Muscovite NFINDR"},{"w":2.12,"r":0.575,"s":"Muscovite NFINDR"},{"w":2.165,"r":0.54,"s":"Muscovite NFINDR"},{"w":2.205,"r":0.53,"s":"Muscovite NFINDR"},{"w":2.253,"r":0.535,"s":"Muscovite NFINDR"},{"w":2.293,"r":0.543,"s":"Muscovite NFINDR"},{"w":2.318,"r":0.53,"s":"Muscovite NFINDR"},{"w":2.35,"r":0.535,"s":"Muscovite NFINDR"},{"w":2.383,"r":0.5,"s":"Muscovite NFINDR"},{"w":2.432,"r":0.475,"s":"Muscovite NFINDR"},{"w":2.465,"r":0.45,"s":"Muscovite NFINDR"},{"w":2.489,"r":0.395,"s":"Muscovite NFINDR"},{"w":2.5,"r":0.435,"s":"Muscovite NFINDR"},
{"w":0.4,"r":0.115,"s":"Muscovite OSP"},{"w":0.44,"r":0.15,"s":"Muscovite OSP"},{"w":0.47,"r":0.18,"s":"Muscovite OSP"},{"w":0.5,"r":0.19,"s":"Muscovite OSP"},{"w":0.53,"r":0.21,"s":"Muscovite OSP"},{"w":0.575,"r":0.275,"s":"Muscovite OSP"},{"w":0.605,"r":0.315,"s":"Muscovite OSP"},{"w":0.65,"r":0.337,"s":"Muscovite OSP"},{"w":0.71,"r":0.36,"s":"Muscovite OSP"},{"w":0.725,"r":0.365,"s":"Muscovite OSP"},{"w":0.733,"r":0.36,"s":"Muscovite OSP"},{"w":0.77,"r":0.385,"s":"Muscovite OSP"},{"w":0.8,"r":0.405,"s":"Muscovite OSP"},{"w":0.838,"r":0.42,"s":"Muscovite OSP"},{"w":0.86,"r":0.415,"s":"Muscovite OSP"},{"w":0.92,"r":0.39,"s":"Muscovite OSP"},{"w":0.98,"r":0.375,"s":"Muscovite OSP"},{"w":1.025,"r":0.372,"s":"Muscovite OSP"},{"w":1.07,"r":0.38,"s":"Muscovite OSP"},{"w":1.13,"r":0.397,"s":"Muscovite OSP"},{"w":1.19,"r":0.42,"s":"Muscovite OSP"},{"w":1.25,"r":0.45,"s":"Muscovite OSP"},{"w":1.31,"r":0.48,"s":"Muscovite OSP"},{"w":1.37,"r":0.507,"s":"Muscovite OSP"},{"w":1.415,"r":0.53,"s":"Muscovite OSP"},{"w":1.475,"r":0.545,"s":"Muscovite OSP"},{"w":1.513,"r":0.55,"s":"Muscovite OSP"},{"w":1.52,"r":0.545,"s":"Muscovite OSP"},{"w":1.528,"r":0.505,"s":"Muscovite OSP"},{"w":1.55,"r":0.5,"s":"Muscovite OSP"},{"w":1.595,"r":0.525,"s":"Muscovite OSP"},{"w":1.67,"r":0.542,"s":"Muscovite OSP"},{"w":1.73,"r":0.552,"s":"Muscovite OSP"},{"w":1.79,"r":0.552,"s":"Muscovite OSP"},{"w":1.85,"r":0.54,"s":"Muscovite OSP"},{"w":1.906,"r":0.54,"s":"Muscovite OSP"},{"w":1.918,"r":0.395,"s":"Muscovite OSP"},{"w":1.948,"r":0.46,"s":"Muscovite OSP"},{"w":1.97,"r":0.445,"s":"Muscovite OSP"},{"w":2.008,"r":0.455,"s":"Muscovite OSP"},{"w":2.06,"r":0.43,"s":"Muscovite OSP"},{"w":2.105,"r":0.415,"s":"Muscovite OSP"},{"w":2.135,"r":0.375,"s":"Muscovite OSP"},{"w":2.165,"r":0.33,"s":"Muscovite OSP"},{"w":2.205,"r":0.365,"s":"Muscovite OSP"},{"w":2.253,"r":0.367,"s":"Muscovite OSP"},{"w":2.285,"r":0.355,"s":"Muscovite OSP"},{"w":2.334,"r":0.33,"s":"Muscovite OSP"},{"w":2.383,"r":0.295,"s":"Muscovite OSP"},{"w":2.432,"r":0.26,"s":"Muscovite OSP"},{"w":2.465,"r":0.255,"s":"Muscovite OSP"},{"w":2.481,"r":0.225,"s":"Muscovite OSP"},{"w":2.5,"r":0.145,"s":"Muscovite OSP"}
]
},
"vconcat": [
{
"width": 1196, "height": 443,
"data": {"name": "a"},
"title": {"text": "Alunite", "orient": "bottom", "anchor": "middle", "font": "Liberation Serif", "fontSize": 42, "fontWeight": "normal", "color": "#000", "baseline": "top", "offset": 4},
"layer": [
{"mark": {"type": "line", "strokeWidth": 3},
 "encoding": {
  "x": {"field": "w", "type": "quantitative", "scale": {"domain": [0.4, 2.2, 2.5], "range": [101, 1024, 1170], "nice": false, "zero": false},
        "axis": {"orient": "bottom", "offset": -83, "values": [0.4, 0.7, 1, 1.3, 1.6, 1.9, 2.2, 2.5], "labelExpr": "replace(format(datum.value, '.1~f'), '.', ',')", "title": "Wavelength (microns)", "grid": false, "domainColor": "#000", "domainWidth": 4.5, "tickColor": "#9a9a9a", "tickSize": 5, "tickWidth": 1.5, "labelPadding": 10, "titlePadding": 13, "labelFlush": false, "labelOverlap": false}},
  "y": {"field": "r", "type": "quantitative", "scale": {"domain": [0, 1], "range": [360, 29], "nice": false, "zero": false},
        "axis": {"orient": "left", "offset": -101, "values": [0, 0.1, 0.2, 0.3, 0.4, 0.5, 0.6, 0.7, 0.8, 0.9, 1], "labelExpr": "replace(format(datum.value, '.1~f'), '.', ',')", "title": "Reflectance", "titleFont": "DejaVu Sans", "titleFontSize": 15, "grid": true, "gridColor": "#c2c2c2", "gridWidth": 1.5, "domainColor": "#000", "domainWidth": 4.5, "tickColor": "#9a9a9a", "tickSize": 5, "tickWidth": 1.5, "labelPadding": 17, "titlePadding": 9, "labelFlush": false, "labelOverlap": false}},
  "color": {"field": "s", "type": "nominal", "scale": {"domain": ["Alunite USGS", "Alunite NFINDR", "Alunite OSP"], "range": ["#6d6fae", "#9c3a68", "#93cd12"]},
        "legend": {"orient": "none", "legendX": 326, "legendY": 210, "title": null}}
 }},
{"mark": {"type": "line", "opacity": 0},
 "encoding": {
  "x": {"field": "w", "type": "quantitative", "axis": {"orient": "top", "offset": -29, "labels": false, "ticks": false, "grid": false, "domainColor": "#000", "domainWidth": 4.5, "title": "a", "titleX": 12, "titleY": 14, "titleAngle": 0, "titleAlign": "left", "titleAnchor": null, "titleBaseline": "alphabetic", "titleFont": "Liberation Sans", "titleFontSize": 44, "titleFontWeight": "bold", "titleColor": "#000"}},
  "y": {"field": "r", "type": "quantitative", "axis": {"orient": "right", "offset": -26, "labels": false, "ticks": false, "grid": false, "domainColor": "#000", "domainWidth": 4.5, "title": null}},
  "detail": {"field": "s"}
 }}
],
"resolve": {"axis": {"x": "independent", "y": "independent"}}
},
{
"width": 1196, "height": 443,
"data": {"name": "b"},
"title": {"text": "Muscovite", "orient": "bottom", "anchor": "middle", "font": "Liberation Serif", "fontSize": 42, "fontWeight": "normal", "color": "#000", "baseline": "top", "offset": 4},
"layer": [
{"mark": {"type": "line", "strokeWidth": 3},
 "encoding": {
  "x": {"field": "w", "type": "quantitative", "scale": {"domain": [0.4, 2.2, 2.5], "range": [101, 1024, 1170], "nice": false, "zero": false},
        "axis": {"orient": "bottom", "offset": -83, "values": [0.4, 0.7, 1, 1.3, 1.6, 1.9, 2.2, 2.5], "labelExpr": "replace(format(datum.value, '.1~f'), '.', ',')", "title": "Wavelength (microns)", "grid": false, "domainColor": "#000", "domainWidth": 4.5, "tickColor": "#9a9a9a", "tickSize": 5, "tickWidth": 1.5, "labelPadding": 10, "titlePadding": 13, "labelFlush": false, "labelOverlap": false}},
  "y": {"field": "r", "type": "quantitative", "scale": {"domain": [0, 1], "range": [360, 29], "nice": false, "zero": false},
        "axis": {"orient": "left", "offset": -101, "values": [0, 0.1, 0.2, 0.3, 0.4, 0.5, 0.6, 0.7, 0.8, 0.9, 1], "labelExpr": "replace(format(datum.value, '.1~f'), '.', ',')", "title": "Reflectance", "titleFont": "DejaVu Sans", "titleFontSize": 15, "grid": true, "gridColor": "#c2c2c2", "gridWidth": 1.5, "domainColor": "#000", "domainWidth": 4.5, "tickColor": "#9a9a9a", "tickSize": 5, "tickWidth": 1.5, "labelPadding": 17, "titlePadding": 9, "labelFlush": false, "labelOverlap": false}},
  "color": {"field": "s", "type": "nominal", "scale": {"domain": ["Buddingtonite USGS", "Buddingtonite NFINDR", "Buddingtonite OSP"], "range": ["#6d6fae", "#9c3a68", "#93cd12"]},
        "legend": {"orient": "none", "legendX": 311, "legendY": 201, "title": null}}
 }},
{"mark": {"type": "line", "opacity": 0},
 "encoding": {
  "x": {"field": "w", "type": "quantitative", "axis": {"orient": "top", "offset": -29, "labels": false, "ticks": false, "grid": false, "domainColor": "#000", "domainWidth": 4.5, "title": "b", "titleX": 12, "titleY": 14, "titleAngle": 0, "titleAlign": "left", "titleAnchor": null, "titleBaseline": "alphabetic", "titleFont": "Liberation Sans", "titleFontSize": 44, "titleFontWeight": "bold", "titleColor": "#000"}},
  "y": {"field": "r", "type": "quantitative", "axis": {"orient": "right", "offset": -26, "labels": false, "ticks": false, "grid": false, "domainColor": "#000", "domainWidth": 4.5, "title": null}},
  "detail": {"field": "s"}
 }}
],
"resolve": {"axis": {"x": "independent", "y": "independent"}}
},
{
"width": 1196, "height": 443,
"data": {"name": "c"},
"title": {"text": "Calcite", "orient": "bottom", "anchor": "middle", "font": "Liberation Serif", "fontSize": 42, "fontWeight": "normal", "color": "#000", "baseline": "top", "offset": 4},
"layer": [
{"mark": {"type": "line", "strokeWidth": 3},
 "encoding": {
  "x": {"field": "w", "type": "quantitative", "scale": {"domain": [0.4, 2.2, 2.5], "range": [101, 1024, 1170], "nice": false, "zero": false},
        "axis": {"orient": "bottom", "offset": -83, "values": [0.4, 0.7, 1, 1.3, 1.6, 1.9, 2.2, 2.5], "labelExpr": "replace(format(datum.value, '.1~f'), '.', ',')", "title": "Wavelength (microns)", "grid": false, "domainColor": "#000", "domainWidth": 4.5, "tickColor": "#9a9a9a", "tickSize": 5, "tickWidth": 1.5, "labelPadding": 10, "titlePadding": 13, "labelFlush": false, "labelOverlap": false}},
  "y": {"field": "r", "type": "quantitative", "scale": {"domain": [0, 1], "range": [360, 29], "nice": false, "zero": false},
        "axis": {"orient": "left", "offset": -101, "values": [0, 0.1, 0.2, 0.3, 0.4, 0.5, 0.6, 0.7, 0.8, 0.9, 1], "labelExpr": "replace(format(datum.value, '.1~f'), '.', ',')", "title": "Reflectance", "titleFont": "DejaVu Sans", "titleFontSize": 15, "grid": true, "gridColor": "#c2c2c2", "gridWidth": 1.5, "domainColor": "#000", "domainWidth": 4.5, "tickColor": "#9a9a9a", "tickSize": 5, "tickWidth": 1.5, "labelPadding": 17, "titlePadding": 9, "labelFlush": false, "labelOverlap": false}},
  "color": {"field": "s", "type": "nominal", "scale": {"domain": ["Calcite USGS", "Calcite NFINDR", "Calcite OSP"], "range": ["#6d6fae", "#9c3a68", "#93cd12"]},
        "legend": {"orient": "none", "legendX": 458, "legendY": 110, "title": null}}
 }},
{"mark": {"type": "line", "opacity": 0},
 "encoding": {
  "x": {"field": "w", "type": "quantitative", "axis": {"orient": "top", "offset": -29, "labels": false, "ticks": false, "grid": false, "domainColor": "#000", "domainWidth": 4.5, "title": "c", "titleX": 12, "titleY": 14, "titleAngle": 0, "titleAlign": "left", "titleAnchor": null, "titleBaseline": "alphabetic", "titleFont": "Liberation Sans", "titleFontSize": 44, "titleFontWeight": "bold", "titleColor": "#000"}},
  "y": {"field": "r", "type": "quantitative", "axis": {"orient": "right", "offset": -26, "labels": false, "ticks": false, "grid": false, "domainColor": "#000", "domainWidth": 4.5, "title": null}},
  "detail": {"field": "s"}
 }}
],
"resolve": {"axis": {"x": "independent", "y": "independent"}}
},
{
"width": 1196, "height": 443,
"data": {"name": "d"},
"title": {"text": "Kaolinite", "orient": "bottom", "anchor": "middle", "font": "Liberation Serif", "fontSize": 42, "fontWeight": "normal", "color": "#000", "baseline": "top", "offset": 4},
"layer": [
{"mark": {"type": "line", "strokeWidth": 3},
 "encoding": {
  "x": {"field": "w", "type": "quantitative", "scale": {"domain": [0.4, 2.2, 2.5], "range": [101, 1024, 1170], "nice": false, "zero": false},
        "axis": {"orient": "bottom", "offset": -83, "values": [0.4, 0.7, 1, 1.3, 1.6, 1.9, 2.2, 2.5], "labelExpr": "replace(format(datum.value, '.1~f'), '.', ',')", "title": "Wavelength (microns)", "grid": false, "domainColor": "#000", "domainWidth": 4.5, "tickColor": "#9a9a9a", "tickSize": 5, "tickWidth": 1.5, "labelPadding": 10, "titlePadding": 13, "labelFlush": false, "labelOverlap": false}},
  "y": {"field": "r", "type": "quantitative", "scale": {"domain": [0, 1], "range": [360, 29], "nice": false, "zero": false},
        "axis": {"orient": "left", "offset": -101, "values": [0, 0.1, 0.2, 0.3, 0.4, 0.5, 0.6, 0.7, 0.8, 0.9, 1], "labelExpr": "replace(format(datum.value, '.1~f'), '.', ',')", "title": "Reflectance", "titleFont": "DejaVu Sans", "titleFontSize": 15, "grid": true, "gridColor": "#c2c2c2", "gridWidth": 1.5, "domainColor": "#000", "domainWidth": 4.5, "tickColor": "#9a9a9a", "tickSize": 5, "tickWidth": 1.5, "labelPadding": 17, "titlePadding": 9, "labelFlush": false, "labelOverlap": false}},
  "color": {"field": "s", "type": "nominal", "scale": {"domain": ["Kaolinite USGS", "Kaolinite NFINDR", "Kaolinite OSP"], "range": ["#6d6fae", "#9c3a68", "#93cd12"]},
        "legend": {"orient": "none", "legendX": 489, "legendY": 226, "title": null}}
 }},
{"mark": {"type": "line", "opacity": 0},
 "encoding": {
  "x": {"field": "w", "type": "quantitative", "axis": {"orient": "top", "offset": -29, "labels": false, "ticks": false, "grid": false, "domainColor": "#000", "domainWidth": 4.5, "title": "d", "titleX": 12, "titleY": 14, "titleAngle": 0, "titleAlign": "left", "titleAnchor": null, "titleBaseline": "alphabetic", "titleFont": "Liberation Sans", "titleFontSize": 44, "titleFontWeight": "bold", "titleColor": "#000"}},
  "y": {"field": "r", "type": "quantitative", "axis": {"orient": "right", "offset": -26, "labels": false, "ticks": false, "grid": false, "domainColor": "#000", "domainWidth": 4.5, "title": null}},
  "detail": {"field": "s"}
 }}
],
"resolve": {"axis": {"x": "independent", "y": "independent"}}
},
{
"width": 1196, "height": 443,
"data": {"name": "e"},
"title": {"text": "Muscovite", "orient": "bottom", "anchor": "middle", "font": "Liberation Serif", "fontSize": 42, "fontWeight": "normal", "color": "#000", "baseline": "top", "offset": 4},
"layer": [
{"mark": {"type": "line", "strokeWidth": 3},
 "encoding": {
  "x": {"field": "w", "type": "quantitative", "scale": {"domain": [0.4, 2.2, 2.5], "range": [101, 1024, 1170], "nice": false, "zero": false},
        "axis": {"orient": "bottom", "offset": -83, "values": [0.4, 0.7, 1, 1.3, 1.6, 1.9, 2.2, 2.5], "labelExpr": "replace(format(datum.value, '.1~f'), '.', ',')", "title": "Wavelength (microns)", "grid": false, "domainColor": "#000", "domainWidth": 4.5, "tickColor": "#9a9a9a", "tickSize": 5, "tickWidth": 1.5, "labelPadding": 10, "titlePadding": 13, "labelFlush": false, "labelOverlap": false}},
  "y": {"field": "r", "type": "quantitative", "scale": {"domain": [0, 1], "range": [360, 29], "nice": false, "zero": false},
        "axis": {"orient": "left", "offset": -101, "values": [0, 0.1, 0.2, 0.3, 0.4, 0.5, 0.6, 0.7, 0.8, 0.9, 1], "labelExpr": "replace(format(datum.value, '.1~f'), '.', ',')", "title": "Reflectance", "titleFont": "DejaVu Sans", "titleFontSize": 15, "grid": true, "gridColor": "#c2c2c2", "gridWidth": 1.5, "domainColor": "#000", "domainWidth": 4.5, "tickColor": "#9a9a9a", "tickSize": 5, "tickWidth": 1.5, "labelPadding": 17, "titlePadding": 9, "labelFlush": false, "labelOverlap": false}},
  "color": {"field": "s", "type": "nominal", "scale": {"domain": ["Muscovite USGS", "Muscovite NFINDR", "Muscovite OSP"], "range": ["#6d6fae", "#9c3a68", "#93cd12"]},
        "legend": {"orient": "none", "legendX": 578, "legendY": 226, "title": null}}
 }},
{"mark": {"type": "line", "opacity": 0},
 "encoding": {
  "x": {"field": "w", "type": "quantitative", "axis": {"orient": "top", "offset": -29, "labels": false, "ticks": false, "grid": false, "domainColor": "#000", "domainWidth": 4.5, "title": "e", "titleX": 12, "titleY": 14, "titleAngle": 0, "titleAlign": "left", "titleAnchor": null, "titleBaseline": "alphabetic", "titleFont": "Liberation Sans", "titleFontSize": 44, "titleFontWeight": "bold", "titleColor": "#000"}},
  "y": {"field": "r", "type": "quantitative", "axis": {"orient": "right", "offset": -26, "labels": false, "ticks": false, "grid": false, "domainColor": "#000", "domainWidth": 4.5, "title": null}},
  "detail": {"field": "s"}
 }}
],
"resolve": {"axis": {"x": "independent", "y": "independent"}}
}
],
"spacing": 58,
"bounds": "flush",
"resolve": {"scale": {"color": "independent", "x": "independent", "y": "independent"}, "legend": {"color": "independent"}},
"config": {
 "view": {"stroke": "#a8a8a8", "strokeWidth": 1.5},
 "axis": {"labelFont": "Lato", "labelFontSize": 18.5, "labelColor": "#333", "titleFont": "Lato", "titleFontSize": 19, "titleFontWeight": "bold", "titleColor": "#000", "domainCap": "square"},
 "legend": {"labelFont": "Lato", "labelFontSize": 18.5, "labelColor": "#111", "labelLimit": 400, "symbolType": "stroke", "symbolStrokeWidth": 4, "symbolSize": 1936, "clipHeight": 27, "rowPadding": 12, "padding": 8, "labelOffset": 3, "strokeColor": "#000", "strokeWidth": 4}
}
}
